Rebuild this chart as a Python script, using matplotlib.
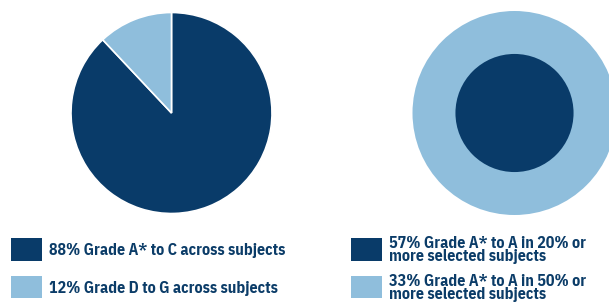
import matplotlib
matplotlib.use("Agg")
import matplotlib.pyplot as plt
from matplotlib.patches import Circle, Rectangle

# Data
pie_labels = ["88% Grade A* to C across subjects", "12% Grade D to G across subjects"]
pie_values = [88, 12]
circle_labels = ["57% Grade A* to A in 20% or\nmore selected subjects",
                 "33% Grade A* to A in 50% or\nmore selected subjects"]
circle_values = [57, 33]

DARK = "#093b69"
LIGHT = "#8fbedc"
TEXT = "#0b3c68"

W, H = 609, 302
fig = plt.figure(figsize=(W / 100, H / 100), dpi=100)
ax = fig.add_axes([0, 0, 1, 1])

# Left pie
ax.pie(pie_values, colors=[DARK, LIGHT], startangle=90, counterclock=False,
       center=(171.5, H - 113), radius=100.5,
       wedgeprops=dict(edgecolor="white", linewidth=1.2))

# Right nested circles (outer light, inner dark)
R = 102
cx, cy = 514.5, H - 113
r_outer = R
r_inner = R * min(circle_values) / max(circle_values)
ax.add_patch(Circle((cx, cy), r_outer, facecolor=LIGHT, edgecolor="none"))
ax.add_patch(Circle((cx, cy), r_inner, facecolor=DARK, edgecolor="none"))

ax.set_xlim(0, W)
ax.set_ylim(0, H)
ax.set_aspect("equal")
ax.axis("off")

font = dict(family=["IBM Plex Sans Condensed", "DejaVu Sans"], weight="bold",
            fontsize=11.5, color=TEXT)

# Left legend
for i, (lab, col) in enumerate(zip(pie_labels, [DARK, LIGHT])):
    ytop = 238.3 + i * 37.7
    ax.add_patch(Rectangle((11, H - ytop - 22.4), 31, 22.4, facecolor=col, edgecolor="none"))
    ax.text(49, H - (255.5 + i * 37.7), lab, va="baseline", ha="left", **font)

# Right legend (baseline of the last line of each two-line label)
for i, (lab, col) in enumerate(zip(circle_labels, [DARK, LIGHT])):
    ytop = 238.3 + i * 37.7
    ax.add_patch(Rectangle((351, H - ytop - 22.4), 31, 22.4, facecolor=col, edgecolor="none"))
    ax.text(389, H - (261.5 + i * 37.9), lab, va="baseline", ha="left",
            linespacing=0.9, **font)

fig.savefig("out.png", dpi=100)
